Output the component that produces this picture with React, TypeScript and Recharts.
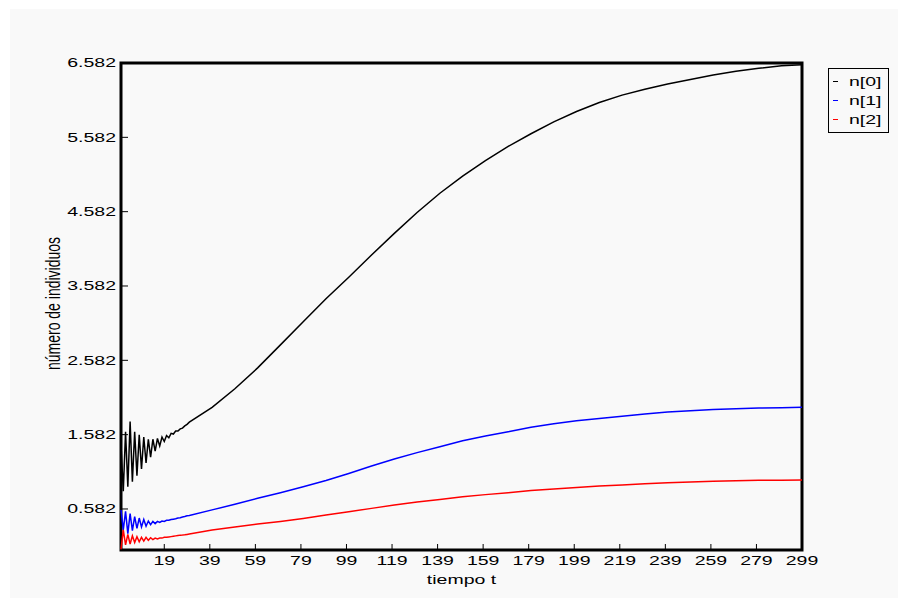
import { LineChart, Line, XAxis, YAxis, ReferenceArea, Legend } from 'recharts'

// tiempo t: step by step through the transient, then every 10 steps
const tiempo = [
  0, 1, 2, 3, 4, 5, 6, 7, 8, 9, 10, 11, 12, 13, 14, 15, 16, 17, 18, 19, 20, 21, 22, 23, 24, 25, 26, 27, 28, 29, 30,
  40, 50, 60, 70, 80, 90, 100, 110, 120, 130, 140, 150, 160, 170, 180, 190, 200, 210, 220, 230, 240, 250, 260, 270,
  280, 290, 299,
]

const n0 = [
  1.45, 0.82, 1.62, 0.88, 1.76, 0.95, 1.62, 1.03, 1.58, 1.12, 1.55, 1.2, 1.52, 1.28, 1.52, 1.36, 1.53, 1.43, 1.55, 1.49,
  1.57, 1.54, 1.6, 1.59, 1.63, 1.63, 1.66, 1.67, 1.7, 1.72, 1.75,
  1.95, 2.2, 2.48, 2.79, 3.1, 3.41, 3.7, 4.0, 4.29, 4.57, 4.83, 5.06, 5.27, 5.46, 5.63, 5.79, 5.93, 6.05, 6.15, 6.23,
  6.3, 6.36, 6.42, 6.47, 6.51, 6.545, 6.56,
]

const n1 = [
  0.57, 0.3, 0.55, 0.25, 0.52, 0.29, 0.48, 0.32, 0.46, 0.34, 0.44, 0.35, 0.42, 0.37, 0.415, 0.385, 0.415, 0.4, 0.42,
  0.415, 0.43, 0.43, 0.44, 0.445, 0.45, 0.46, 0.465, 0.475, 0.48, 0.49, 0.495,
  0.57, 0.645, 0.725, 0.8, 0.88, 0.965, 1.06, 1.16, 1.255, 1.34, 1.42, 1.5, 1.565, 1.62, 1.68, 1.73, 1.77, 1.8, 1.83,
  1.86, 1.885, 1.905, 1.92, 1.93, 1.94, 1.945, 1.95,
]

const n2 = [
  0.04, 0.3, 0.1, 0.24, 0.11, 0.22, 0.13, 0.21, 0.14, 0.2, 0.15, 0.2, 0.16, 0.195, 0.17, 0.19, 0.18, 0.19, 0.19, 0.2,
  0.2, 0.205, 0.21, 0.215, 0.22, 0.225, 0.23, 0.232, 0.235, 0.24, 0.245,
  0.3, 0.34, 0.38, 0.415, 0.455, 0.5, 0.545, 0.59, 0.635, 0.675, 0.71, 0.745, 0.775, 0.8, 0.83, 0.85, 0.87, 0.89, 0.905,
  0.92, 0.935, 0.945, 0.955, 0.962, 0.967, 0.97, 0.972,
]

const yTicks = [0.582, 1.582, 2.582, 3.582, 4.582, 5.582, 6.582]
const xTicks = [19, 39, 59, 79, 99, 119, 139, 159, 179, 199, 219, 239, 259, 279, 299]
const yMin = 0.03
const yMax = 6.582

const series = [
  { key: 'n0', name: 'n[0]', color: '#000000' },
  { key: 'n1', name: 'n[1]', color: '#0000ff' },
  { key: 'n2', name: 'n[2]', color: '#ff0000' },
]

const data = tiempo.map((t, i) => ({ t, n0: n0[i], n1: n1[i], n2: n2[i] }))

const FONT = '"Liberation Sans", Arial, sans-serif'
// the original picture is stretched sideways, so text is widened
const STRETCH = 'scale(1.5,1)'

function YTick({ x, y, payload }: any) {
  return (
    <text
      transform={`translate(${x},${y}) ${STRETCH}`}
      textAnchor="end"
      dominantBaseline="central"
      fontSize={13}
      fontFamily={FONT}
      fill="#000"
    >
      {Number(payload.value).toFixed(3)}
    </text>
  )
}

function XTick({ x, y, payload }: any) {
  return (
    <text
      transform={`translate(${x},${y}) ${STRETCH}`}
      textAnchor="middle"
      dominantBaseline="central"
      fontSize={13}
      fontFamily={FONT}
      fill="#000"
    >
      {payload.value}
    </text>
  )
}

const xTitle = (props: any) => {
  const vb = props.viewBox
  return (
    <text
      transform={`translate(${vb.x + vb.width / 2},${vb.y + 30}) ${STRETCH}`}
      textAnchor="middle"
      dominantBaseline="central"
      fontSize={13}
      fontFamily={FONT}
      fill="#000"
    >
      tiempo t
    </text>
  )
}

const yTitle = (props: any) => {
  const vb = props.viewBox
  return (
    <text
      transform={`translate(53,${vb.y + vb.height / 2 - 3}) ${STRETCH} rotate(-90)`}
      textAnchor="middle"
      dominantBaseline="central"
      fontSize={14}
      fontFamily={FONT}
      fill="#000"
    >
      número de individuos
    </text>
  )
}

function LegendBox({ payload }: any) {
  return (
    <div
      style={{
        border: '1px solid #000',
        padding: '3px 0 3px 4px',
        fontFamily: FONT,
        fontSize: 13,
        color: '#000',
        boxSizing: 'border-box',
        width: 61,
      }}
    >
      {(payload || []).map((p: any) => (
        <div key={p.value} style={{ height: 19, lineHeight: '19px', whiteSpace: 'nowrap', display: 'flex', alignItems: 'center' }}>
          <span style={{ display: 'inline-block', width: 5, height: 1.5, background: p.color, marginRight: 11 }} />
          <span style={{ display: 'inline-block', transform: 'scaleX(1.5)', transformOrigin: 'left center' }}>{p.value}</span>
        </div>
      ))}
    </div>
  )
}

export default function App() {
  return (
    <div style={{ position: 'relative', width: 906, height: 606, margin: -8, background: '#ffffff', overflow: 'hidden' }}>
      <div style={{ position: 'absolute', left: 10, top: 9, width: 896, height: 597, background: '#f9f9f9' }} />
      <div style={{ position: 'absolute', left: 0, top: 0 }}>
        <LineChart width={906} height={606} data={data} margin={{ top: 63, right: 104, bottom: 0, left: 0 }}>
          <XAxis
            dataKey="t"
            type="number"
            domain={[0, 299]}
            ticks={xTicks}
            height={56}
            axisLine={false}
            tickLine={{ stroke: '#000', strokeWidth: 1 }}
            tickSize={-6}
            tickMargin={17}
            tick={XTick}
            interval={0}
            label={xTitle}
          />
          <YAxis
            type="number"
            domain={[yMin, yMax]}
            ticks={yTicks}
            width={121}
            axisLine={false}
            tickLine={{ stroke: '#000', strokeWidth: 1 }}
            tickSize={-7}
            tickMargin={12}
            tick={YTick}
            interval={0}
            allowDataOverflow
            label={yTitle}
          />
          {series.map((s) => (
            <Line
              key={s.key}
              type="linear"
              dataKey={s.key}
              name={s.name}
              stroke={s.color}
              strokeWidth={1.5}
              dot={false}
              activeDot={false}
              isAnimationActive={false}
            />
          ))}
          <ReferenceArea x1={0} x2={299} y1={yMin} y2={yMax} fill="none" stroke="#000" strokeWidth={3} />
          <Legend
            layout="horizontal"
            verticalAlign="middle"
            align="center"
            content={LegendBox}
            wrapperStyle={{ left: 828, top: 68, width: 61, height: 'auto' }}
          />
        </LineChart>
      </div>
    </div>
  )
}
